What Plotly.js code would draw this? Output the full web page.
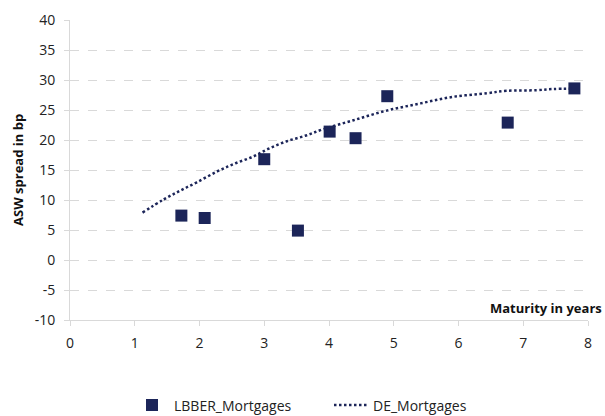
<!DOCTYPE html>
<html>
<head>
<meta charset="utf-8">
<script src="https://cdn.plot.ly/plotly-3.0.1.min.js"></script>
<style>html,body{margin:0;padding:0;background:#fff;overflow:hidden;}#chart{width:605px;height:416px;}</style>
</head>
<body>
<div id="chart"></div>
<script>
// LBBER mortgages (scatter)
const lbberMaturity = [1.72, 2.08, 3.0, 3.52, 4.01, 4.41, 4.9, 6.76, 7.79];
const lbberSpread = [7.4, 7.0, 16.8, 4.9, 21.4, 20.3, 27.3, 22.9, 28.6];
// DE mortgages (dotted curve)
const deMaturity = [1.12, 1.44, 1.70, 1.96, 2.28, 2.54, 2.82, 3.07, 3.35, 3.63, 3.91, 4.38, 4.89, 5.41, 5.92, 6.44, 6.74, 7.21, 7.46, 7.77];
const deSpread = [7.9, 10.05, 11.55, 12.95, 14.8, 16.05, 17.2, 18.55, 19.8, 20.7, 21.8, 23.3, 24.9, 26.1, 27.2, 27.8, 28.2, 28.3, 28.5, 28.55];
const xTicks = [0, 1, 2, 3, 4, 5, 6, 7, 8];
const yTicks = [-10, -5, 0, 5, 10, 15, 20, 25, 30, 35, 40];

const navy = '#1c2559';
const fontFam = '"Open Sans", sans-serif';

const traces = [
  {x: lbberMaturity, y: lbberSpread, type: 'scatter', mode: 'markers', name: 'LBBER_Mortgages',
   marker: {symbol: 'square', size: 12, color: navy}},
  {x: deMaturity, y: deSpread, type: 'scatter', mode: 'lines', name: 'DE_Mortgages',
   line: {color: navy, width: 2.5, dash: '2.5px,2.5px', shape: 'spline'}}
];

const layout = {
  width: 605, height: 416,
  margin: {l: 70, r: 17, t: 20, b: 96, autoexpand: false},
  paper_bgcolor: '#fff', plot_bgcolor: '#fff',
  font: {family: fontFam, size: 13, color: '#404040'},
  showlegend: true,
  legend: {orientation: 'h', x: 0.5, xanchor: 'center', y: -0.285, yanchor: 'middle',
           font: {family: fontFam, size: 14, color: '#222'}, itemwidth: 34, entrywidth: 150, tracegroupgap: 0},
  xaxis: {range: [0, 8], tickvals: xTicks, ticktext: xTicks.map(String), showgrid: false, zeroline: false,
          showline: true, linecolor: '#d9d9d9', linewidth: 1, ticks: 'outside', ticklen: 5, tickcolor: '#d9d9d9',
          ticklabelstandoff: 5, tickfont: {size: 14, color: '#222'}, fixedrange: true},
  yaxis: {range: [-10, 40], tickvals: yTicks, ticktext: yTicks.map(String), showgrid: true, gridcolor: '#d9d9d9',
          griddash: 'dash', gridwidth: 1, zeroline: false, showline: true, linecolor: '#d9d9d9', linewidth: 1,
          ticks: 'outside', ticklen: 5, tickcolor: '#d9d9d9', ticklabelstandoff: 6,
          tickfont: {size: 14, color: '#222'}, fixedrange: true},
  annotations: [
    {text: '<b>ASW spread in bp</b>', xref: 'paper', yref: 'paper', x: -52/518, y: 0.5, xanchor: 'center', yanchor: 'middle',
     textangle: -90, showarrow: false, font: {family: fontFam, size: 13, color: '#111'}},
    {text: '<b>Maturity in years</b>', xref: 'paper', yref: 'paper', x: 534/518, y: 12/300, xanchor: 'right', yanchor: 'middle',
     showarrow: false, font: {family: fontFam, size: 13, color: '#111'}}
  ]
};

Plotly.newPlot('chart', traces, layout, {displayModeBar: false, staticPlot: true});
</script>
</body>
</html>
